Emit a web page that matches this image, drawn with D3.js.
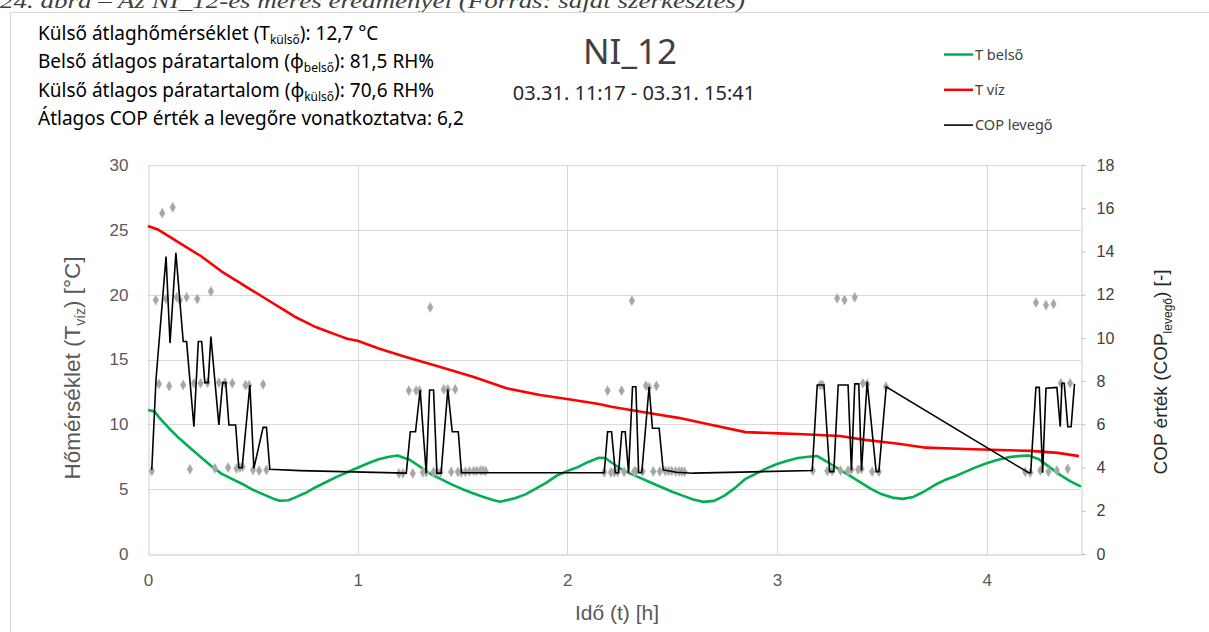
<!DOCTYPE html>
<html><head><meta charset="utf-8">
<script src="https://cdn.jsdelivr.net/npm/d3@7"></script>
<style>
body{margin:0;background:#fff;}
svg{display:block;}
</style></head>
<body><svg id="chart" width="1209" height="632"></svg>
<script>
// ---- data ----
const xTicks = [0,1,2,3,4];
const leftTicks = [0,5,10,15,20,25,30];
const rightTicks = [0,2,4,6,8,10,12,14,16,18];

const tVizT = [0,0.05,0.10,0.15,0.20,0.25,0.30,0.35,0.40,0.45,0.50,0.55,0.60,0.65,0.70,0.75,0.80,0.85,0.90,0.95,1.00,1.10,1.23,1.39,1.55,1.71,1.87,2.03,2.15,2.21,2.38,2.53,2.69,2.85,3.01,3.10,3.30,3.42,3.58,3.71,3.90,4.21,4.34,4.44];
const tVizV = [25.3,25.0,24.5,24.0,23.5,23.0,22.4,21.8,21.3,20.8,20.3,19.8,19.3,18.8,18.3,17.9,17.5,17.2,16.9,16.6,16.45,15.85,15.2,14.45,13.67,12.78,12.26,11.88,11.57,11.35,10.9,10.5,9.95,9.4,9.3,9.25,9.1,8.8,8.5,8.2,8.1,7.95,7.8,7.55];

const tBelsoT = [0,0.03,0.06,0.10,0.15,0.20,0.25,0.30,0.35,0.40,0.45,0.50,0.55,0.60,0.63,0.67,0.70,0.75,0.80,0.85,0.90,0.95,1.00,1.05,1.10,1.15,1.19,1.25,1.30,1.35,1.40,1.45,1.50,1.55,1.60,1.65,1.68,1.75,1.80,1.85,1.90,1.95,2.00,2.05,2.10,2.15,2.18,2.25,2.30,2.35,2.40,2.45,2.50,2.55,2.60,2.65,2.70,2.75,2.80,2.85,2.90,2.95,3.00,3.05,3.10,3.15,3.19,3.25,3.30,3.35,3.40,3.45,3.50,3.55,3.60,3.65,3.70,3.75,3.80,3.85,3.90,3.95,4.00,4.05,4.10,4.15,4.20,4.25,4.30,4.35,4.40,4.45];
const tBelsoV = [11.1,11.0,10.4,9.7,8.9,8.2,7.5,6.8,6.2,5.8,5.4,4.95,4.6,4.25,4.11,4.15,4.35,4.7,5.15,5.55,5.95,6.3,6.65,7.0,7.3,7.5,7.6,7.25,6.7,6.15,5.75,5.35,5.0,4.68,4.4,4.15,4.03,4.3,4.6,5.05,5.5,6.05,6.4,6.7,7.1,7.42,7.4,6.61,6.2,5.85,5.5,5.15,4.8,4.5,4.2,4.02,4.1,4.5,5.1,5.8,6.2,6.6,6.94,7.2,7.4,7.5,7.56,7.0,6.5,6.0,5.5,5.0,4.6,4.35,4.25,4.4,4.8,5.3,5.7,6.0,6.35,6.7,7.0,7.25,7.45,7.55,7.6,7.3,6.7,6.1,5.6,5.2];

const copT = [0.018,0.038,0.086,0.105,0.133,0.168,0.184,0.219,0.240,0.256,0.271,0.287,0.300,0.338,0.356,0.371,0.386,0.418,0.433,0.449,0.486,0.505,0.549,0.565,0.581,0.724,1.232,1.251,1.276,1.298,1.327,1.343,1.362,1.378,1.398,1.430,1.451,1.480,1.495,2.176,2.192,2.211,2.229,2.244,2.260,2.276,2.292,2.311,2.327,2.340,2.355,2.390,2.406,2.438,2.457,2.52,2.60,3.168,3.192,3.224,3.251,3.271,3.292,3.339,3.355,3.371,3.390,3.403,3.430,3.473,3.486,3.521,4.200,4.210,4.235,4.251,4.267,4.283,4.335,4.351,4.359,4.370,4.387,4.403,4.419];
const copV = [3.9,8.05,13.76,9.76,13.94,9.83,9.83,5.89,9.83,9.83,7.93,7.93,10.06,5.97,7.93,7.93,5.97,5.97,3.99,3.99,7.82,3.96,5.86,5.86,3.92,3.86,3.74,5.66,5.66,7.59,3.74,7.59,7.59,3.74,3.74,7.62,5.66,5.66,3.76,3.76,5.66,5.66,3.76,3.76,5.66,5.66,3.76,7.74,7.74,3.76,3.76,7.74,5.82,5.82,3.89,3.78,3.74,3.86,7.82,7.82,3.81,3.81,7.82,7.82,3.86,7.87,7.87,3.86,7.97,3.81,3.81,7.74,3.76,3.76,7.71,7.71,3.76,7.67,7.71,5.89,7.90,7.90,5.89,5.89,7.87];

const dotT = [0.018,0.037,0.052,0.068,0.086,0.101,0.118,0.137,0.152,0.168,0.184,0.200,0.219,0.235,0.251,0.284,0.300,0.319,0.338,0.367,0.382,0.402,0.422,0.438,0.451,0.465,0.482,0.501,0.530,0.549,0.565,
 1.197,1.216,1.244,1.263,1.279,1.295,1.311,1.327,1.346,1.362,1.378,1.395,1.411,1.430,1.446,1.465,1.478,1.494,1.514,1.533,1.554,1.568,1.586,1.597,1.610,
 2.176,2.192,2.208,2.224,2.240,2.259,2.271,2.308,2.319,2.327,2.359,2.375,2.390,2.410,2.425,2.441,2.467,2.483,2.498,2.517,2.533,2.546,2.559,
 3.171,3.206,3.217,3.240,3.263,3.287,3.303,3.322,3.339,3.355,3.371,3.387,3.403,3.410,3.430,3.454,3.486,3.520,
 4.184,4.208,4.235,4.256,4.283,4.295,4.319,4.335,4.354,4.387,4.398];
const dotV = [3.84,11.75,7.87,15.77,11.8,7.77,16.04,11.88,11.75,7.82,11.88,3.92,7.9,11.8,7.9,7.93,12.15,3.96,7.93,7.93,4.0,7.9,3.96,4.0,4.04,7.81,7.81,3.89,3.86,7.85,3.89,
 3.73,3.73,7.56,3.73,7.56,7.56,3.78,3.78,11.41,3.8,3.8,3.78,7.62,7.62,3.8,7.62,3.8,3.78,3.8,3.82,3.84,3.84,3.86,3.86,3.84,
 3.78,7.56,3.78,3.78,3.8,7.56,3.8,11.72,3.82,3.82,3.82,7.79,7.71,3.82,7.78,3.82,3.84,3.84,3.84,3.82,3.82,3.82,3.8,
 3.86,7.82,7.82,3.84,3.84,11.83,3.86,11.75,3.86,3.9,11.88,3.9,3.94,7.9,7.87,3.81,3.81,7.74,
 3.8,3.76,11.63,3.86,11.52,3.81,11.57,3.86,7.9,3.94,7.9];

// ---- layout ----
const svg = d3.select('#chart');
const L = 148, R = 1081, T = 165, B = 554;
const x = d3.scaleLinear().domain([0,4.45]).range([L,R]);
const yL = d3.scaleLinear().domain([0,30]).range([B,T]);
const yR = d3.scaleLinear().domain([0,18]).range([B,T]);
const grid = '#d9d9d9', txt = '#595959';
const uiFont = 'Noto Sans, Open Sans, sans-serif';
const axFont = 'Liberation Sans, Arial, sans-serif';

// caption (cut off at top edge, as in the source)
svg.append('text').attr('x',0).attr('y',8)
  .attr('font-family','Liberation Serif').attr('font-style','italic').attr('font-size',22)
  .attr('fill','#404040').attr('textLength',745).attr('lengthAdjust','spacingAndGlyphs')
  .text('24. ábra – Az NI_12-es mérés eredményei (Forrás: saját szerkesztés)');

// frame
svg.append('path').attr('d','M10.5,1000 V12.5 H1300').attr('fill','none').attr('stroke',grid).attr('stroke-width',1);

// gridlines
svg.append('g').selectAll('line').data(leftTicks.filter(d=>d>0)).join('line')
  .attr('x1',L).attr('x2',R).attr('y1',d=>Math.round(yL(d))+0.5).attr('y2',d=>Math.round(yL(d))+0.5)
  .attr('stroke',grid).attr('stroke-width',1);
svg.append('g').selectAll('line').data(xTicks.filter(d=>d>0)).join('line')
  .attr('x1',d=>Math.round(x(d))+0.5).attr('x2',d=>Math.round(x(d))+0.5).attr('y1',T).attr('y2',B)
  .attr('stroke',grid).attr('stroke-width',1);

// axes
const axB = svg.append('g').attr('transform',`translate(0,${B+0.5})`)
  .call(d3.axisBottom(x).tickValues(xTicks).tickSize(0).tickPadding(19).tickFormat(d3.format('d')));
const axLft = svg.append('g').attr('transform',`translate(${L+0.5},0)`)
  .call(d3.axisLeft(yL).tickValues(leftTicks).tickSize(0).tickPadding(20));
const axRt = svg.append('g').attr('transform',`translate(${R+0.5},0)`)
  .call(d3.axisRight(yR).tickValues(rightTicks).tickSize(4).tickPadding(11));
[axB,axLft,axRt].forEach(g=>{
  g.select('.domain').attr('stroke',grid).attr('stroke-width',1.3);
  g.selectAll('.tick line').attr('stroke','#bfbfbf');
  g.selectAll('.tick text').attr('fill',txt).attr('font-family',axFont).attr('font-size',17);
});
axRt.selectAll('.tick text').attr('font-size',16).attr('fill','#404040');

// lines
const lineL = d3.line().x(d=>x(d[0])).y(d=>yL(d[1]));
const lineR = d3.line().x(d=>x(d[0])).y(d=>yR(d[1]));
svg.append('path').datum(d3.zip(tBelsoT,tBelsoV)).attr('d',lineL)
  .attr('fill','none').attr('stroke','#00b050').attr('stroke-width',2.6).attr('stroke-linejoin','round');
svg.append('path').datum(d3.zip(tVizT,tVizV)).attr('d',lineL)
  .attr('fill','none').attr('stroke','#ff0000').attr('stroke-width',2.6).attr('stroke-linejoin','round');
// diamonds
const sym = d3.symbol().type(d3.symbolDiamond).size(30);
svg.append('g').selectAll('path').data(d3.zip(dotT,dotV)).join('path')
  .attr('transform',d=>`translate(${x(d[0])},${yR(d[1])})`).attr('d',sym)
  .attr('fill','#a6a6a6').attr('stroke','#bfbfbf').attr('stroke-width',0.5);
svg.append('path').datum(d3.zip(copT,copV)).attr('d',lineR)
  .attr('fill','none').attr('stroke','#000').attr('stroke-width',1.6).attr('stroke-linejoin','miter');

// axis titles
const lt = svg.append('text').attr('transform','translate(80,368) rotate(-90)').attr('text-anchor','middle')
  .attr('font-family',axFont).attr('font-size',22.5).attr('fill',txt);
lt.append('tspan').text('Hőmérséklet (T');
lt.append('tspan').attr('font-size',14).attr('dy',5).text('víz');
lt.append('tspan').attr('dy',-5).text(') [°C]');

const rt = svg.append('text').attr('transform','translate(1167,372) rotate(-90)').attr('text-anchor','middle')
  .attr('font-family',axFont).attr('font-size',19).attr('fill','#262626');
rt.append('tspan').text('COP érték (COP');
rt.append('tspan').attr('font-size',12).attr('dy',5).text('levegő');
rt.append('tspan').attr('dy',-5).text(') [-]');

svg.append('text').attr('x',617).attr('y',620).attr('text-anchor','middle')
  .attr('font-family',axFont).attr('font-size',21).attr('fill',txt).text('Idő (t) [h]');

// title
svg.append('text').attr('x',630).attr('y',64).attr('text-anchor','middle')
  .attr('font-family',uiFont).attr('font-size',35).attr('fill','#404040').text('NI_12');
svg.append('text').attr('x',634).attr('y',100).attr('text-anchor','middle')
  .attr('font-family',uiFont).attr('font-size',20).attr('fill','#262626').text('03.31. 11:17 - 03.31. 15:41');

// info text
const info = [
  ['Külső átlaghőmérséklet (T','külső','): 12,7  °C'],
  ['Belső átlagos páratartalom (ϕ','belső','): 81,5 RH%'],
  ['Külső átlagos páratartalom (ϕ','külső','): 70,6 RH%'],
  ['Átlagos COP érték a levegőre vonatkoztatva: 6,2','','']
];
info.forEach((r,i)=>{
  const t = svg.append('text').attr('x',38).attr('y',40+i*28.4)
    .attr('font-family',uiFont).attr('font-size',19).attr('fill','#000');
  t.append('tspan').text(r[0]);
  if(r[1]){ t.append('tspan').attr('font-size',12).attr('dy',4).text(r[1]);
            t.append('tspan').attr('dy',-4).text(r[2]); }
});

// legend
const leg = [['T belső','#00b050',2.5],['T víz','#ff0000',2.5],['COP levegő','#000',1.6]];
leg.forEach((l,i)=>{
  const yy = 54.5+i*35.3;
  svg.append('line').attr('x1',944).attr('x2',973).attr('y1',yy).attr('y2',yy).attr('stroke',l[1]).attr('stroke-width',l[2]);
  svg.append('text').attr('x',975).attr('y',yy+5).attr('font-family',uiFont).attr('font-size',14.5)
    .attr('fill','#404040').text(l[0]);
});
</script></body></html>
